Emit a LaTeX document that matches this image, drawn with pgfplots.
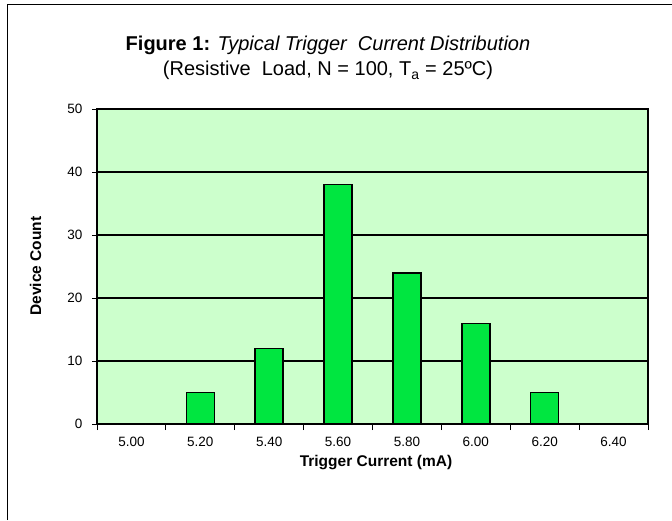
\documentclass[border=0pt]{standalone}
\usepackage{pgfplots}
\pgfplotsset{compat=1.18}
\usepackage{fontspec}
\setmainfont{Liberation Sans}
\definecolor{plotbg}{RGB}{204,255,204}
\definecolor{barfill}{RGB}{0,230,64}
\begin{document}
\begin{tikzpicture}[x=1pt,y=1pt]
\path[use as bounding box] (0,0) rectangle (672,520);
\fill[white] (0,0) rectangle (672,520);
\draw[line width=1.6pt] (7.5,0) -- (7.5,515.3) -- (672,515.3);
\node[font=\fontsize{20}{22}\selectfont, anchor=base] at (328,469) {\textbf{Figure 1:} \textit{Typical Trigger\ \ Current Distribution}};
\node[font=\fontsize{20}{22}\selectfont, anchor=base] at (328,444) {(Resistive\ \ Load, N = 100, T\textsubscript{a} = 25ºC)};
\node[font=\fontsize{15.5}{17}\selectfont\bfseries, anchor=base] at (376,54) {Trigger Current (mA)};
\node[font=\fontsize{15.5}{17}\selectfont\bfseries, rotate=90, anchor=base] at (41,254) {Device Count};
\begin{axis}[
  at={(97pt,96pt)}, anchor=south west,
  scale only axis, width=551pt, height=315pt,
  xmin=-0.5, xmax=7.5, ymin=0, ymax=50,
  axis background/.style={fill=plotbg},
  axis line style={line width=1.8pt},
  xtick={0,...,7},
  xticklabels={5.00,5.20,5.40,5.60,5.80,6.00,6.20,6.40},
  minor xtick={-0.5,0.5,...,7.5},
  major x tick style={draw=none},
  minor x tick style={line width=0.8pt, black},
  minor tick length=6pt,
  ytick={0,10,...,50},
  major tick length=5pt,
  y tick style={line width=0.8pt, black},
  tick align=outside,
  xtick pos=bottom, ytick pos=left,
  ymajorgrids, grid style={line width=1.4pt, black},
  tick label style={font=\fontsize{13.5}{15}\selectfont},
  /pgf/number format/assume math mode=true,
  xticklabel style={yshift=-5pt},
  yticklabel style={xshift=-6pt},
  ybar, bar width=28pt,
  clip=false,
]
\addplot[draw=black, line width=1.4pt, fill=barfill] coordinates {
  (0,0) (1,5) (2,12) (3,38) (4,24) (5,16) (6,5) (7,0)
};
\end{axis}
\end{tikzpicture}
\end{document}
